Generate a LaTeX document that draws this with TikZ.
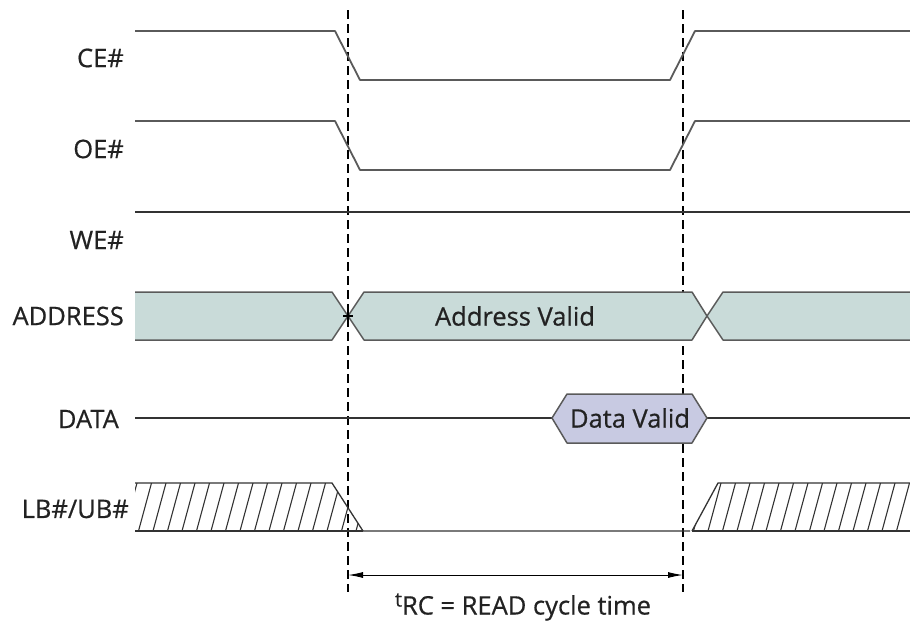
\documentclass[tikz,border=0pt]{standalone}
\usepackage{fontspec}
\setmainfont{Open Sans}
\newfontfamily\lblfont[FakeBold=0.6]{Open Sans}
\usetikzlibrary{arrows.meta}
\definecolor{sigcol}{HTML}{5A5A5A}
\definecolor{linecol}{HTML}{333333}
\definecolor{busfill}{HTML}{C9DBD9}
\definecolor{datafill}{HTML}{C8CAE2}
\definecolor{txtcol}{HTML}{222222}
\begin{document}
\begin{tikzpicture}[x=1pt,y=-1pt,
  sig/.style={draw=sigcol, line width=1.8pt, line join=round},
  flat/.style={draw=linecol, line width=1.4pt},
  bus/.style={draw=sigcol, fill=busfill, line width=1.5pt, line join=round},
  databox/.style={draw=sigcol, fill=datafill, line width=1.5pt, line join=round},
  hatchline/.style={draw=linecol, line width=1.1pt},
  hatchedge/.style={draw=linecol, line width=1.3pt},
  guide/.style={draw=black, line width=1.2pt, dash pattern=on 9pt off 5pt},
  siglabel/.style={anchor=east, text=txtcol, font=\lblfont\fontsize{25.5}{28}\selectfont, inner sep=0pt},
  inlabel/.style={text=txtcol, font=\lblfont\fontsize{25.5}{28}\selectfont, inner sep=0pt},
  dim/.style={draw=black, line width=1pt, {Latex[length=15pt,width=6pt]}-{Latex[length=15pt,width=6pt]}}
]
\useasboundingbox (0,0) rectangle (910,624);

% timing guides (behind the bus shapes)
\coordinate (g1top) at (348,10);
\coordinate (g1bot) at (348,592);
\coordinate (g2top) at (683,10);
\coordinate (g2bot) at (683,592);
\draw[guide] (g1top) -- (g1bot);
\draw[guide] (g2top) -- (g2bot);

% signal names
\node[siglabel] (ce)   at (124,58)  {CE\#};
\node[siglabel] (oe)   at (124,149) {OE\#};
\node[siglabel] (we)   at (124,240) {WE\#};
\node[siglabel] (addr) at (124,316) {ADDRESS};
\node[siglabel] (data) at (119,419) {DATA};
\node[siglabel] (lbub) at (129,509) {LB\#/UB\#};

% CE#
\draw[sig] (135,31) -- (335,31) -- (360,80) -- (670,80) -- (695,31) -- (910,31);
% OE#
\draw[sig] (135,121) -- (335,121) -- (360,170) -- (670,170) -- (695,121) -- (910,121);
% WE#
\draw[flat] (135,212) -- (910,212);

% ADDRESS bus
\draw[bus] (135,292) -- (332,292) -- (348,316) -- (332,340) -- (135,340);
\draw[bus] (348,316) -- (364,292) -- (692,292) -- (707,316) -- (692,340) -- (364,340) -- cycle;
\draw[bus] (910,292) -- (723,292) -- (707,316) -- (723,340) -- (910,340);
\draw[draw=black, line width=1.2pt] (343,316) -- (353,316) (348,310) -- (348,322);
\node[inlabel] (addrvalid) at (515,316) {Address Valid};

% DATA
\draw[flat] (135,418) -- (552,418);
\draw[flat] (707,418) -- (910,418);
\draw[databox] (552,418) -- (567,394) -- (692,394) -- (707,418) -- (692,443) -- (567,443) -- cycle;
\node[inlabel] (datavalid) at (630,418) {Data Valid};

% LB#/UB#
\begin{scope}
  \clip (135,483) -- (332,483) -- (363,531) -- (135,531) -- cycle;
  \foreach \i in {0,...,17}
    \draw[hatchline] (124+14.5*\i,531) -- (137+14.5*\i,483);
\end{scope}
\draw[hatchedge] (135,483) -- (332,483) -- (363,531) -- (690,531);
\draw[hatchedge] (135,531) -- (363,531);
\begin{scope}
  \clip (692,531) -- (718,483) -- (910,483) -- (910,531) -- cycle;
  \foreach \i in {0,...,17}
    \draw[hatchline] (679+14.5*\i,531) -- (692+14.5*\i,483);
\end{scope}
\draw[hatchedge] (692,531) -- (718,483) -- (910,483);
\draw[hatchedge] (692,531) -- (910,531);

% read cycle time
\coordinate (a1) at (348,575);
\coordinate (a2) at (683,575);
\draw[dim] (a1) -- (a2);
\node[inlabel] (trc) at (523,607) {\raisebox{8pt}{\fontsize{20}{22}\selectfont t}RC = READ cycle time};
\end{tikzpicture}
\end{document}
